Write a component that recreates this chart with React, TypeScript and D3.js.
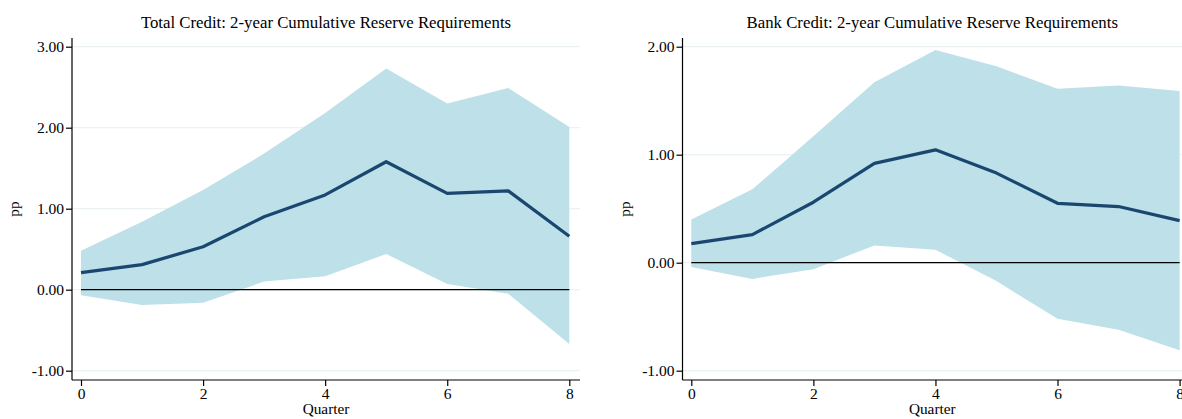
import { useRef, useEffect } from 'react';
import * as d3 from 'd3';

// Quarters after the shock
const quarters = [0, 1, 2, 3, 4, 5, 6, 7, 8];
const xTicks = [0, 2, 4, 6, 8];

// Total credit response (pp)
const totalMean = [0.21, 0.31, 0.53, 0.9, 1.17, 1.58, 1.19, 1.22, 0.66];
const totalUpper = [0.48, 0.84, 1.23, 1.68, 2.18, 2.73, 2.3, 2.49, 2.01];
const totalLower = [-0.07, -0.19, -0.16, 0.1, 0.165, 0.44, 0.07, -0.05, -0.67];
const totalTicks = [-1, 0, 1, 2, 3];

// Bank credit response (pp)
const bankMean = [0.176, 0.26, 0.56, 0.92, 1.045, 0.83, 0.55, 0.52, 0.39];
const bankUpper = [0.4, 0.68, 1.17, 1.67, 1.97, 1.82, 1.61, 1.64, 1.59];
const bankLower = [-0.04, -0.15, -0.06, 0.16, 0.12, -0.17, -0.52, -0.62, -0.81];
const bankTicks = [-1, 0, 1, 2];

const FONT = '"Liberation Serif", "Times New Roman", serif';

const App = () => {
  const svgRef = useRef<SVGSVGElement | null>(null);

  useEffect(() => {
    if (!svgRef.current) return;
    const svg = d3.select(svgRef.current);
    svg.selectAll('*').remove();

    const panels = [
      {
        title: 'Total Credit: 2-year Cumulative Reserve Requirements',
        axisX: 72, right: 580, x0: 81, x1: 569.3,
        domain: [-1, 3], ticks: totalTicks,
        mean: totalMean, upper: totalUpper, lower: totalLower
      },
      {
        title: 'Bank Credit: 2-year Cumulative Reserve Requirements',
        axisX: 682.5, right: 1182, x0: 691.3, x1: 1179.6,
        domain: [-1, 2], ticks: bankTicks,
        mean: bankMean, upper: bankUpper, lower: bankLower
      }
    ];

    const top = 38;
    const bottom = 380;

    panels.forEach(p => {
      const g = svg.append('g');
      const x = d3.scaleLinear().domain([0, 8]).range([p.x0, p.x1]);
      const y = d3.scaleLinear().domain(p.domain).range([370.7, 46.7]);

      // grid lines
      g.selectAll('.grid')
        .data(p.ticks)
        .join('line')
        .attr('x1', p.axisX)
        .attr('x2', p.right)
        .attr('y1', d => y(d))
        .attr('y2', d => y(d))
        .attr('stroke', '#eaf2f3')
        .attr('stroke-width', 1.2);

      // confidence band
      const area = d3.area<number>()
        .x(d => x(d))
        .y0(d => y(p.lower[d]))
        .y1(d => y(p.upper[d]));
      g.append('path')
        .datum(quarters)
        .attr('d', area)
        .attr('fill', '#bde0e9');

      // zero line
      g.append('line')
        .attr('x1', x(0))
        .attr('x2', x(8))
        .attr('y1', y(0))
        .attr('y2', y(0))
        .attr('stroke', '#000')
        .attr('stroke-width', 1.2);

      // point estimate
      const line = d3.line<number>()
        .x(d => x(d))
        .y(d => y(p.mean[d]));
      g.append('path')
        .datum(quarters)
        .attr('d', line)
        .attr('fill', 'none')
        .attr('stroke', '#1a476f')
        .attr('stroke-width', 3.2)
        .attr('stroke-linejoin', 'round');

      // y axis
      const yAxis = d3.axisLeft(y)
        .tickValues(p.ticks)
        .tickSize(6)
        .tickPadding(2)
        .tickFormat(d => (d as number).toFixed(2));
      const yg = g.append('g')
        .attr('transform', `translate(${p.axisX},0)`)
        .call(yAxis);
      yg.select('.domain').remove();
      yg.append('line')
        .attr('x1', 0).attr('x2', 0)
        .attr('y1', top).attr('y2', bottom)
        .attr('stroke', '#000')
        .attr('stroke-width', 1.2);

      // x axis
      const xAxis = d3.axisBottom(x)
        .tickValues(xTicks)
        .tickSize(6)
        .tickPadding(2)
        .tickFormat(d => String(d));
      const xg = g.append('g')
        .attr('transform', `translate(0,${bottom})`)
        .call(xAxis);
      xg.select('.domain').remove();
      xg.append('line')
        .attr('x1', p.axisX).attr('x2', p.right)
        .attr('y1', 0).attr('y2', 0)
        .attr('stroke', '#000')
        .attr('stroke-width', 1.2);

      [yg, xg].forEach(ax => {
        ax.selectAll('.tick line').attr('stroke', '#000').attr('stroke-width', 1.2);
        ax.selectAll('.tick text')
          .attr('fill', '#000')
          .style('font-family', FONT)
          .style('font-size', '15.5px');
      });

      const cx = (p.axisX + p.right) / 2;

      // title
      g.append('text')
        .attr('x', cx)
        .attr('y', 28)
        .attr('text-anchor', 'middle')
        .style('font-family', FONT)
        .style('font-size', '16.8px')
        .text(p.title);

      // axis titles
      g.append('text')
        .attr('x', cx)
        .attr('y', 414)
        .attr('text-anchor', 'middle')
        .style('font-family', FONT)
        .style('font-size', '15.3px')
        .text('Quarter');

      g.append('text')
        .attr('transform', `translate(${p.axisX - 53},${(top + bottom) / 2}) rotate(-90)`)
        .attr('text-anchor', 'middle')
        .style('font-family', FONT)
        .style('font-size', '15.3px')
        .text('pp');
    });
  }, []);

  return (
    <svg
      ref={svgRef}
      width={1182}
      height={419}
      style={{ position: 'absolute', left: 0, top: 0, background: '#fff' }}
    />
  );
};

export default App;
